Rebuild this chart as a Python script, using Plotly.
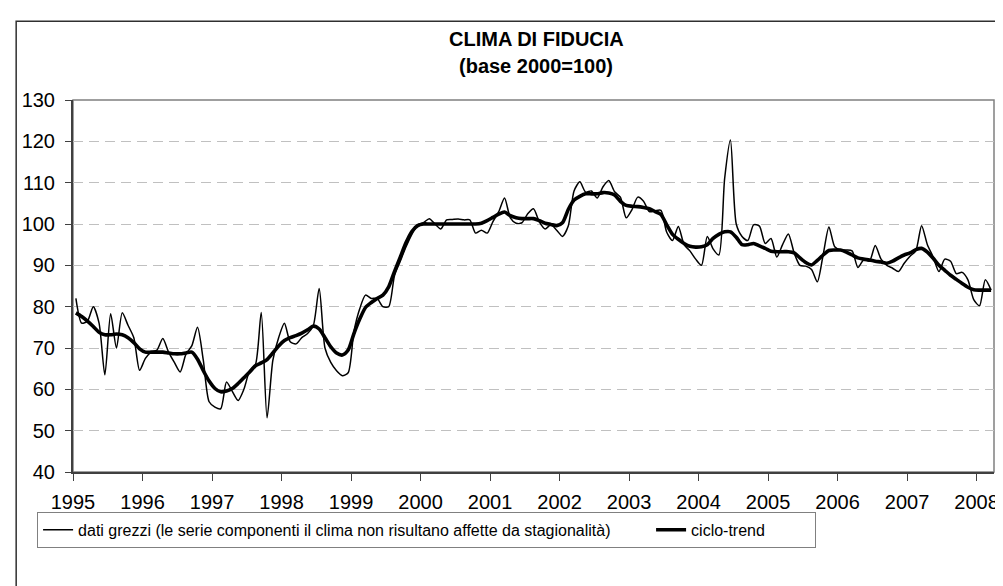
import plotly.graph_objects as go

start_year = 1995
year_ticks = list(range(1995, 2009))
year_labels = [str(y) for y in year_ticks]
y_ticks = list(range(40, 131, 10))

# dati grezzi (monthly, Jan 1995 - Mar 2008)
grezzi = [
    82, 76, 76.5, 80, 76, 63.5, 78.3, 70, 78.5, 75.5, 72.5, 64.6,
    67.5, 69, 69.5, 72.3, 69, 66.5, 64.2, 68.5, 70.5, 75, 67, 57,
    55.7, 55.3, 61.8, 59.5, 57.3, 60, 64.5, 66, 78.6, 53.1, 67, 72.5,
    76, 71.5, 71, 72.5, 73.5, 75.5, 84.4, 70, 66.5, 64.5, 63.3, 64,
    74, 79.5, 82.8, 82, 82, 80, 80, 87.5, 91, 94.5, 97.5, 99.8,
    100.3, 101.3, 100, 98.8, 101, 101.1, 101.2, 101, 101, 97.8, 98.5, 97.8,
    100.6, 103, 106.3, 101.5, 100.2, 100.3, 102.5, 103.7, 100.5, 98.8, 99.8, 98.5,
    97, 99.5, 108, 110.2, 107.7, 108, 106.3, 109, 110.5, 107.8, 106.5, 101.5,
    103.5, 106.5, 105.5, 103, 103.2, 103.3, 98, 96, 99.4, 95, 93.5, 91.5,
    90, 97, 94, 92.5, 111, 120.3, 100, 97, 96, 99.8, 99.5, 95.3,
    96.5, 92, 95, 97.6, 93, 90, 89.8, 89, 86, 92.5, 99.3, 94.5,
    93.7, 93.7, 93.5, 89.5, 91.3, 91, 94.8, 91.5, 90, 89.3, 88.5, 90.5,
    92.2, 93.5, 99.6, 95, 92, 88.5, 91.5, 91, 88, 88.3, 86.5, 81.7,
    80.2, 86.5, 84,
]

# ciclo-trend
trend = [
    78.5, 77.6, 76.5, 75.2, 73.8, 73.2, 73.2, 73.4, 73.2, 72.5, 71.3, 69.8,
    69.0, 69.0, 69.0, 69.0, 68.8, 68.6, 68.6, 68.8, 69.0, 67.3, 64.5, 62.0,
    60.2, 59.4, 59.6, 60.2, 61.4, 62.8, 64.2, 65.7, 66.4, 67.2, 68.8, 70.5,
    71.8, 72.5, 73.0, 73.6, 74.4, 75.3, 74.6, 72.5, 70.3, 68.8, 68.3, 69.5,
    73.5, 77.0, 79.8, 81.0, 82.0, 82.8, 84.8, 88.5, 92.0, 95.5, 98.2, 99.6,
    100.0, 100.0, 100.0, 100.0, 100.0, 100.0, 100.0, 100.0, 100.0, 100.0, 100.2, 100.8,
    101.6, 102.4, 102.9, 102.0, 101.5, 101.3, 101.3, 101.3, 100.8, 100.2, 99.9, 99.6,
    100.3, 103.5, 105.8, 106.7, 107.3, 107.3, 107.3, 107.6, 107.5, 107.0, 105.5, 104.5,
    104.3, 104.2, 104.0, 103.7, 103.0, 102.3, 99.8, 97.5, 96.3, 95.3, 94.6, 94.4,
    94.5, 95.0, 96.5, 97.5, 98.1, 98.1, 96.8, 95.0, 95.0, 95.3, 94.7, 94.1,
    93.4, 93.3, 93.3, 93.3, 93.0, 91.8, 90.7, 90.1, 91.2, 92.5, 93.6, 93.7,
    93.7, 93.2, 92.5, 91.8, 91.5, 91.3, 91.0, 90.8, 90.5, 91.0, 91.8, 92.5,
    93.0, 93.8, 94.1, 93.2, 91.7, 90.0, 88.8, 87.6, 86.6, 85.6, 84.7, 84.1,
    84.0, 84.0, 84.0,
]

n = len(grezzi)
x = [start_year + (i + 0.5) / 12 for i in range(n)]

FONT = "Liberation Sans, Arial, sans-serif"
GAP = "\u00a0" * 8

fig = go.Figure()
fig.add_trace(go.Scatter(
    x=x, y=grezzi, mode="lines",
    name="dati grezzi (le serie componenti il clima non risultano affette da stagionalità)" + GAP,
    line=dict(color="black", width=1.5, shape="spline", smoothing=0.7),
))
fig.add_trace(go.Scatter(
    x=x, y=trend, mode="lines", name="ciclo-trend" + "\u00a0" * 10,
    line=dict(color="black", width=3.6, shape="spline", smoothing=0.7),
))

fig.update_layout(
    width=1003, height=586,
    margin=dict(l=65, r=14, t=92, b=122, pad=0),
    paper_bgcolor="white", plot_bgcolor="white",
    font=dict(family=FONT, color="black", size=19),
    showlegend=True,
    legend=dict(
        orientation="h", x=-0.039, y=-0.107, xanchor="left", yanchor="top",
        bordercolor="#808080", borderwidth=1, bgcolor="white",
        font=dict(family=FONT, size=16, color="black"),
        itemwidth=30, tracegroupgap=0,
    ),
    xaxis=dict(
        range=[start_year, start_year + n / 12],
        tickvals=year_ticks, ticktext=year_labels,
        showgrid=False, zeroline=False,
        showline=True, linecolor="#404040", linewidth=2,
        ticks="outside", ticklen=7, tickwidth=1, tickcolor="#404040",
        tickfont=dict(size=20), ticklabelstandoff=4,
    ),
    yaxis=dict(
        range=[40, 130], tickvals=y_ticks,
        showgrid=True, gridcolor="#c0c0c0", gridwidth=1, griddash="10px,6px",
        zeroline=False,
        showline=True, linecolor="#404040", linewidth=2,
        ticks="outside", ticklen=6, tickwidth=1, tickcolor="#404040",
        tickfont=dict(size=20), ticklabelstandoff=6,
    ),
    shapes=[
        dict(type="rect", xref="paper", yref="paper", x0=0, x1=1, y0=0, y1=1,
             line=dict(color="#808080", width=1.5), layer="below"),
        dict(type="rect", xref="paper", yref="paper", x0=-0.0617, x1=1.1, y0=-0.5, y1=1.2117,
             line=dict(color="#303030", width=1.5), layer="below"),
    ],
    annotations=[
        dict(text="<b>CLIMA DI FIDUCIA</b>", xref="paper", yref="paper", x=0.503, y=1.164,
             xanchor="center", yanchor="middle", showarrow=False, font=dict(size=20)),
        dict(text="<b>(base 2000=100)</b>", xref="paper", yref="paper", x=0.503, y=1.091,
             xanchor="center", yanchor="middle", showarrow=False, font=dict(size=20)),
    ],
)

fig.write_html("out.html")
